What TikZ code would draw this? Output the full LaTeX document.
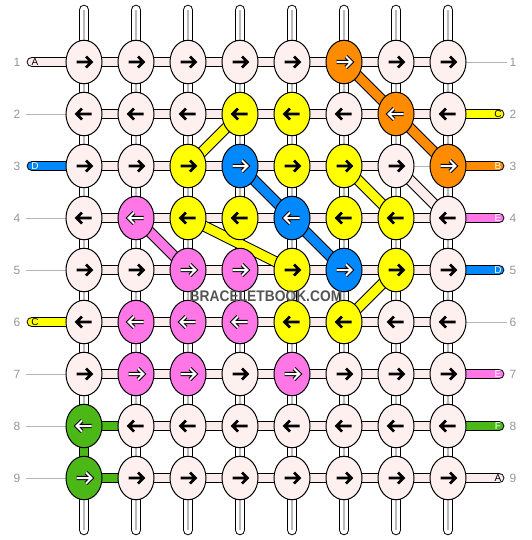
\documentclass[tikz,border=0pt]{standalone}
\usepackage{fontspec}
\setsansfont{Liberation Sans}
\usetikzlibrary{shapes.geometric,backgrounds}

\definecolor{kn}{RGB}{255,240,240}
\definecolor{tb}{RGB}{253,236,236}
\definecolor{ko}{RGB}{255,140,0}
\definecolor{ky}{RGB}{255,255,0}
\definecolor{kb}{RGB}{0,136,255}
\definecolor{km}{RGB}{255,119,230}
\definecolor{kg}{RGB}{76,184,24}
\definecolor{lbl}{RGB}{150,150,150}
\definecolor{mark}{RGB}{85,85,85}

\tikzset{
  knot/.style={ellipse, draw=black, line width=0.75pt, minimum width=27pt, minimum height=32.6pt, inner sep=0pt},
  htube/.style={draw=black, line width=0.75pt, double=#1, double distance=6.6pt},
  htube/.default=tb,
  vtube/.style={draw=black, line width=0.75pt, double=white, double distance=6.4pt},
  vmid/.style={draw=gray!55, line width=0.9pt},
  strand/.style={draw=black, line width=0.75pt, double=#1, double distance=6.8pt},
  guide/.style={draw=lbl!70, line width=0.75pt},
  rowno/.style={text=lbl, font=\sffamily\fontsize{9}{9}\selectfont, inner sep=0pt},
  tag/.style={font=\sffamily\fontsize{7.5}{7.5}\selectfont, inner sep=0pt},
  ar-n/.style={draw=black, line width=1.9pt},
  ar-y/.style={ar-n},
  ar-o/.style={draw=white, line width=1.5pt, preaction={draw=black, line width=3.1pt}},
  ar-b/.style={ar-o}, ar-m/.style={ar-o}, ar-g/.style={ar-o},
}

\begin{document}
\begin{tikzpicture}[x=0.75pt,y=0.75pt,yscale=-1,xscale=1]
\useasboundingbox (0,0) rectangle (532,540);

% knots, row by row
\foreach \r/\row in {1/{n,n,n,n,n,o,n,n}, 2/{n,n,n,y,y,n,o,n}, 3/{n,n,y,b,y,y,n,o},
    4/{n,m,y,y,b,y,y,n}, 5/{n,n,m,m,y,b,y,n}, 6/{n,m,m,m,y,y,n,n},
    7/{n,m,m,n,m,n,n,n}, 8/{g,n,n,n,n,n,n,n}, 9/{g,n,n,n,n,n,n,n}}{
  \pgfmathtruncatemacro\dir{1-2*mod(\r+1,2)}
  \foreach \c [count=\i] in \row {
    \pgfmathsetmacro\kx{84+52*(\i-1)}
    \pgfmathsetmacro\ky{62+52*(\r-1)}
    \node[knot, fill=k\c] (k-\r-\i) at (\kx,\ky) {};
    \draw[ar-\c, shift={(\kx,\ky)}, xscale=\dir] (-7.5,0) -- (6.5,0) (2,-5.5) -- (7.5,0) -- (2,5.5);
  }
}

\begin{scope}[on background layer]
% tails at top and bottom
\foreach \i in {1,...,8}{
  \coordinate (top-\i) at ({84+52*(\i-1)},10);
  \coordinate (bot-\i) at ({84+52*(\i-1)},530);
  \draw[vtube, line cap=round] (top-\i) -- (k-1-\i.center);
  \draw[vtube, line cap=round] (k-9-\i.center) -- (bot-\i);
  \draw[vmid] (top-\i) -- (k-1-\i.center);
  \draw[vmid] (k-9-\i.center) -- (bot-\i);
}
% between rows
\foreach \r [evaluate=\r as \s using int(\r+1)] in {1,...,8}{
  \foreach \i in {1,...,8}{
    \draw[vtube] (k-\r-\i.center) -- (k-\s-\i.center);
    \draw[vmid] (k-\r-\i.center) -- (k-\s-\i.center);
  }
}
% along rows
\foreach \r in {1,...,9}{
  \foreach \i [evaluate=\i as \j using int(\i+1)] in {1,...,7}{
    \ifnum\r\i=37
      \draw[guide] (k-\r-\i.center) -- (k-\r-\j.center);
    \else
      \draw[htube] (k-\r-\i.center) -- (k-\r-\j.center);
    \fi
  }
}
% green thread
\draw[htube=kg] (k-8-2.center) -- (k-8-1.center) -- (k-9-1.center) -- (k-9-2.center);

% diagonal strands
\draw[strand=ko] (k-1-6.center) -- (k-2-7.center) -- (k-3-8.center);
\draw[strand=kb] (k-3-4.center) -- (k-4-5.center) -- (k-5-6.center);
\draw[strand=ky] (k-3-3.center) -- (k-2-4.center);
\draw[strand=ky] (k-3-6.center) -- (k-4-7.center);
\draw[strand=ky] (k-4-3.center) -- (k-5-5.center);
\draw[strand=ky] (k-5-7.center) -- (k-6-6.center);
\draw[strand=km] (k-4-2.center) -- (k-5-3.center);
\draw[strand=tb] (k-3-7.center) -- (k-4-8.center);

% left ends
\foreach \r/\cl in {1/tb, 3/kb, 6/ky}{
  \coordinate (ls-\r) at (32,{62+52*(\r-1)});
  \draw[htube=\cl, line cap=round] (ls-\r) -- (k-\r-1.center);
}
\foreach \r in {2,4,5,7,8,9}{
  \coordinate (lg-\r) at (26,{62+52*(\r-1)});
  \draw[guide] (lg-\r) -- (k-\r-1.center);
}
% right ends
\foreach \r/\cl in {2/ky, 3/ko, 4/km, 5/kb, 7/km, 8/kg, 9/tb}{
  \coordinate (rs-\r) at (499,{62+52*(\r-1)});
  \draw[htube=\cl, line cap=round] (k-\r-8.center) -- (rs-\r);
}
\foreach \r in {1,6}{
  \coordinate (rg-\r) at (507,{62+52*(\r-1)});
  \draw[guide] (k-\r-8.center) -- (rg-\r);
}
\end{scope}

% row numbers
\foreach \r in {1,...,9}{
  \node[rowno] (ln-\r) at (17,{62+52*(\r-1)}) {\r};
  \node[rowno] (rn-\r) at (513,{62+52*(\r-1)}) {\r};
}
% thread letters
\foreach \r/\t/\tc in {1/A/black, 3/D/white, 6/C/black}{
  \node[tag, text=\tc] (lt-\r) at (35,{62+52*(\r-1)}) {\t};
}
\foreach \r/\t/\tc in {2/C/black, 3/B/white, 4/E/white, 5/D/white, 7/E/white, 8/F/white, 9/A/black}{
  \node[tag, text=\tc] (rt-\r) at (498,{62+52*(\r-1)}) {\t};
}

\node[text=mark, font=\sffamily\bfseries\fontsize{11.5}{11}\selectfont, inner sep=0pt] (site) at (266,296) {\scalebox{0.9}[1]{BRACELETBOOK.COM}};
\end{tikzpicture}
\end{document}
